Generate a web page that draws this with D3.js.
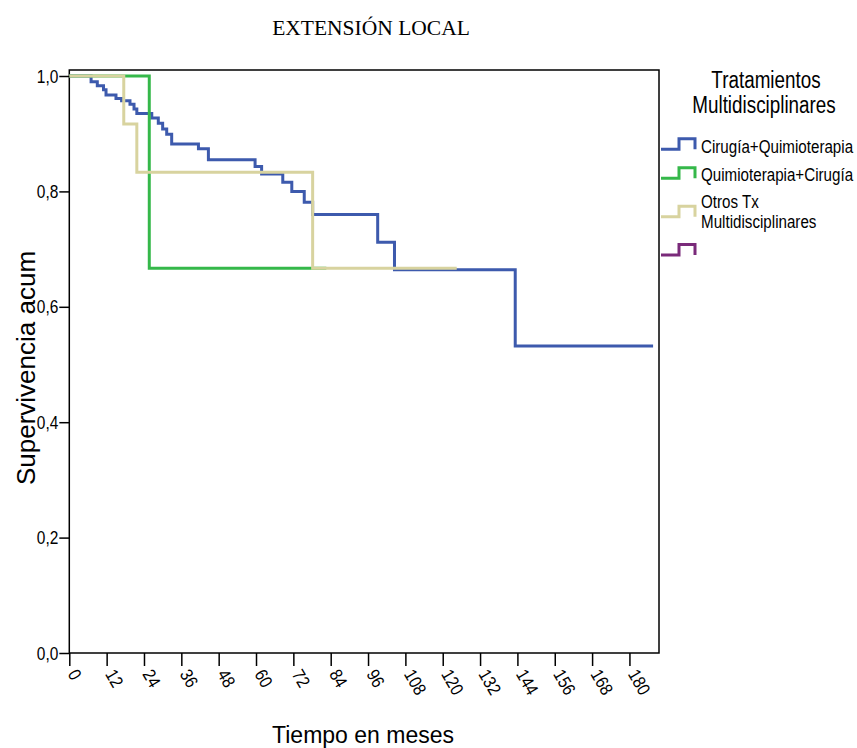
<!DOCTYPE html>
<html>
<head>
<meta charset="utf-8">
<script src="https://cdn.jsdelivr.net/npm/d3@7"></script>
<style>
  html, body { margin: 0; padding: 0; background: #fff; }
  svg { display: block; }
  text { font-family: "Liberation Sans", Arial, sans-serif; fill: #000; }
</style>
</head>
<body>
<svg id="chart" width="857" height="748"></svg>
<script>
// Kaplan-Meier survival by multidisciplinary treatment (months)
const seriesNames = ["Cirugía+Quimioterapia", "Quimioterapia+Cirugía", "Otros Tx Multidisciplinares", ""];
const seriesColors = ["#3d5aad", "#35b84a", "#d8d39f", "#7a2a7a"];

const cqTimes = [0, 7.0, 9.0, 11.0, 11.8, 15.0, 16.8, 19.5, 20.8, 21.7, 26.5, 28.6, 30.0, 31.3, 32.9, 41.5, 44.7, 59.7, 61.8, 68.6, 71.5, 75.5, 78.2, 99.1, 104.5, 143.3, 187.6];
const cqSurv  = [1, 0.990, 0.983, 0.976, 0.967, 0.961, 0.957, 0.951, 0.943, 0.935, 0.927, 0.918, 0.908, 0.899, 0.882, 0.874, 0.855, 0.843, 0.830, 0.816, 0.800, 0.781, 0.760, 0.712, 0.664, 0.532, 0.532];

const qcTimes = [0, 25.7, 82.6];
const qcSurv  = [1, 0.667, 0.667];

const otTimes = [0, 17.5, 21.7, 78.2, 124.5];
const otSurv  = [1, 0.917, 0.833, 0.667, 0.667];

const xTicks = [0, 12, 24, 36, 48, 60, 72, 84, 96, 108, 120, 132, 144, 156, 168, 180];
const yTicks = [0, 0.2, 0.4, 0.6, 0.8, 1.0];
const yTickLabels = ["0,0", "0,2", "0,4", "0,6", "0,8", "1,0"];

const svg = d3.select("#chart");
const plot = { left: 69.3, right: 659, top: 70, bottom: 653 };

const x = d3.scaleLinear().domain([0, 189.5]).range([plot.left, plot.right]);
const y = d3.scaleLinear().domain([0, 1]).range([plot.bottom, 76]);

// Title
svg.append("text")
  .attr("x", 371).attr("y", 35)
  .attr("text-anchor", "middle")
  .style("font-family", "'Liberation Serif', 'DejaVu Serif', serif")
  .style("font-size", "21.5px")
  .text("EXTENSIÓN LOCAL");

// Plot frame
svg.append("rect")
  .attr("x", plot.left).attr("y", plot.top)
  .attr("width", plot.right - plot.left).attr("height", plot.bottom - plot.top)
  .attr("fill", "none").attr("stroke", "#000").attr("stroke-width", 1.5);

// Survival curves
const line = d3.line().x(d => x(d[0])).y(d => y(d[1])).curve(d3.curveStepAfter);
const curves = [
  { t: cqTimes, s: cqSurv, c: seriesColors[0] },
  { t: qcTimes, s: qcSurv, c: seriesColors[1] },
  { t: otTimes, s: otSurv, c: seriesColors[2] }
];
svg.append("g").selectAll("path")
  .data(curves).join("path")
  .attr("d", d => line(d.t.map((t, i) => [t, d.s[i]])))
  .attr("fill", "none")
  .attr("stroke", d => d.c)
  .attr("stroke-width", 3)
  .attr("stroke-linejoin", "miter");

// X axis
const xAxis = d3.axisBottom(x).tickValues(xTicks).tickSize(13).tickFormat("");
const gx = svg.append("g").attr("transform", `translate(0,${plot.bottom})`).call(xAxis);
gx.select(".domain").remove();
gx.selectAll(".tick line").attr("stroke", "#000").attr("stroke-width", 1.5);
svg.append("g").selectAll("text")
  .data(xTicks).join("text")
  .attr("transform", d => `translate(${x(d) - 2},${plot.bottom + 21}) rotate(60) scale(0.86,1)`)
  .attr("text-anchor", "start")
  .style("font-size", "18px")
  .text(d => d);

// Y axis
const yAxis = d3.axisLeft(y).tickValues(yTicks).tickSize(10).tickFormat("");
const gy = svg.append("g").attr("transform", `translate(${plot.left},0)`).call(yAxis);
gy.select(".domain").remove();
gy.selectAll(".tick line").attr("stroke", "#000").attr("stroke-width", 1.5);
svg.append("g").selectAll("text")
  .data(yTicks).join("text")
  .attr("transform", d => `translate(${plot.left - 11},${y(d) + 6.5}) scale(0.86,1)`)
  .attr("text-anchor", "end")
  .style("font-size", "18px")
  .text((d, i) => yTickLabels[i]);

// Axis titles
svg.append("text")
  .attr("transform", `translate(363,743)`)
  .attr("text-anchor", "middle")
  .style("font-size", "23px")
  .text("Tiempo en meses");
svg.append("text")
  .attr("transform", `translate(35,368) rotate(-90)`)
  .attr("text-anchor", "middle")
  .style("font-size", "26px")
  .text("Supervivencia acum");

// Legend
const legend = svg.append("g");
legend.append("text")
  .attr("transform", "translate(766,88) scale(0.82,1)")
  .attr("text-anchor", "middle")
  .style("font-size", "23px")
  .text("Tratamientos");
legend.append("text")
  .attr("transform", "translate(764,113) scale(0.82,1)")
  .attr("text-anchor", "middle")
  .style("font-size", "23px")
  .text("Multidisciplinares");

const legendRows = [
  { base: 149.3, lines: [seriesNames[0]], ty: [153] },
  { base: 178.3, lines: [seriesNames[1]], ty: [181] },
  { base: 216.7, lines: ["Otros Tx", "Multidisciplinares"], ty: [208, 228] },
  { base: 255, lines: [], ty: [] }
];
legendRows.forEach((r, i) => {
  const b = r.base, top = b - 10.5;
  legend.append("path")
    .attr("d", `M661,${b}H679V${top}H695V${b}`)
    .attr("fill", "none")
    .attr("stroke", seriesColors[i])
    .attr("stroke-width", 3);
  r.lines.forEach((ln, j) => {
    legend.append("text")
      .attr("transform", `translate(701,${r.ty[j]}) scale(0.82,1)`)
      .style("font-size", "18.5px")
      .text(ln);
  });
});
</script>
</body>
</html>
